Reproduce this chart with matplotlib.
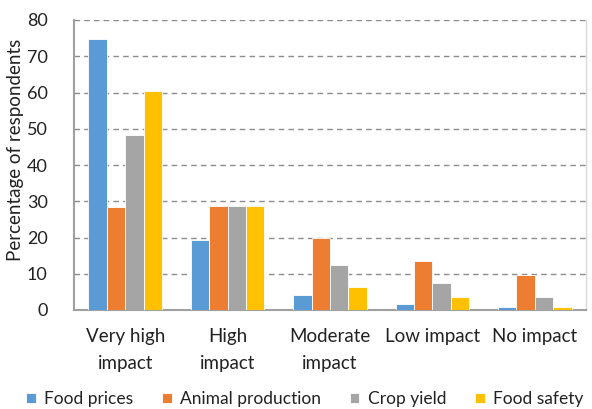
import numpy as np
import matplotlib
matplotlib.use("Agg")
import matplotlib.pyplot as plt

plt.rcParams['font.family'] = ['Lato', 'DejaVu Sans']

categories = ['Very high\nimpact', 'High\nimpact', 'Moderate\nimpact', 'Low impact', 'No impact']
food_prices = [74.8, 19.3, 4.1, 1.6, 0.8]
animal_production = [28.4, 28.8, 20.0, 13.4, 9.7]
crop_yield = [48.3, 28.8, 12.3, 7.4, 3.5]
food_safety = [60.4, 28.8, 6.3, 3.5, 0.8]

series = [
    ('Food prices', food_prices, '#5B9BD5'),
    ('Animal production', animal_production, '#ED7D31'),
    ('Crop yield', crop_yield, '#A5A5A5'),
    ('Food safety', food_safety, '#FFC000'),
]

fig = plt.figure(figsize=(5.92, 4.09), dpi=100)
ax = fig.add_axes([74 / 592, 1 - 310 / 409, 512 / 592, 290 / 409])

x = np.arange(len(categories))
w = 0.18
for i, (name, vals, color) in enumerate(series):
    ax.bar(x + (i - 1.5) * w, vals, width=w, color=color, edgecolor='white',
           linewidth=0.6, label=name, zorder=3)

ax.set_xlim(-0.5, len(categories) - 0.5)
ax.set_ylim(0, 80)
ax.set_yticks(range(0, 81, 10))
ax.yaxis.grid(True, linestyle=(0, (4, 3)), color='#8c8c8c', linewidth=1.0, zorder=0)
ax.set_axisbelow(True)

ax.set_xticks(x)
ax.set_xticklabels(categories, fontsize=13.5, color='#222222', linespacing=1.7)
ax.tick_params(axis='x', length=0, pad=13)
ax.tick_params(axis='y', length=0, pad=19, labelsize=13, labelcolor='#222222')

for s in ['left', 'bottom']:
    ax.spines[s].set_color('#a0a0a0')
    ax.spines[s].set_linewidth(1.5)
ax.spines['top'].set_visible(False)
ax.spines['right'].set_color('#d9d9d9')
ax.spines['right'].set_linewidth(1.0)

ax.set_ylabel('Percentage of respondents', fontsize=13.5, color='#222222')
ax.yaxis.set_label_coords(-0.098, 0.552)

fig.legend(loc='center', bbox_to_anchor=(0.515, 1 - 399 / 409), ncol=4, frameon=False,
           fontsize=12.5, handlelength=0.55, handleheight=0.55, handletextpad=0.5,
           columnspacing=1.65, labelcolor='#222222')

fig.savefig('out.png', dpi=100)
